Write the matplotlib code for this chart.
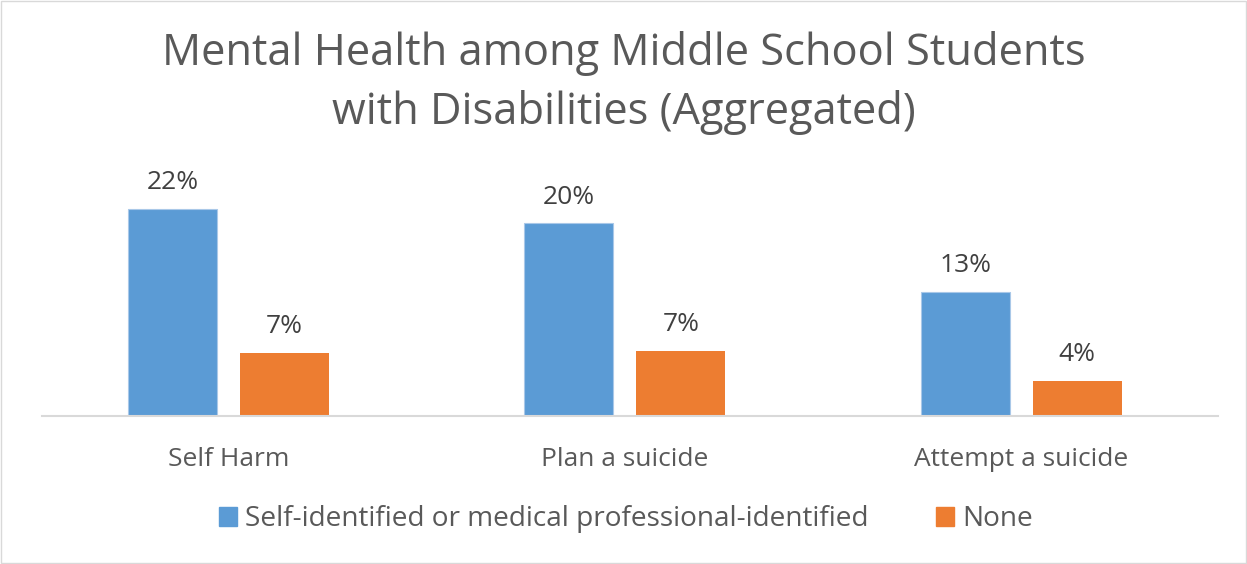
import numpy as np
import matplotlib.pyplot as plt
from matplotlib.patches import Patch

categories = ["Self Harm", "Plan a suicide", "Attempt a suicide"]
identified = [21.9, 20.4, 13.1]
none = [6.7, 6.9, 3.7]
series_names = ["Self-identified or medical professional-identified", "None"]

blue = "#5B9BD5"
orange = "#ED7D31"
text_gray = "#595959"

plt.rcParams["font.family"] = ["Open Sans", "DejaVu Sans"]

fig = plt.figure(figsize=(12.47, 5.64), dpi=100)
ax = fig.add_axes([42 / 1247, 1 - 416 / 564, 1176 / 1247, 236 / 564])

x = np.arange(len(categories))
w = 0.2245
off = 0.141
b1 = ax.bar(x - off, identified, w, color=blue, edgecolor="#A9C8E8", linewidth=0.8)
b2 = ax.bar(x + off, none, w, color=orange)

for bars, vals in [(b1, identified), (b2, none)]:
    for rect, v in zip(bars, vals):
        ax.annotate(f"{round(v)}%", (rect.get_x() + rect.get_width() / 2, v),
                    xytext=(0, 10), textcoords="offset points",
                    ha="center", va="bottom", fontsize=19, color="#404040")

ax.set_xlim(-0.47, 2.496)
ax.set_ylim(0, 25)
ax.set_yticks([])
ax.set_xticks(x)
ax.set_xticklabels(categories, fontsize=19, color=text_gray)
ax.tick_params(axis="x", length=0, pad=22)
for s in ["top", "right", "left"]:
    ax.spines[s].set_visible(False)
ax.spines["bottom"].set_color("#D9D9D9")
ax.spines["bottom"].set_linewidth(1.5)

fig.text(0.5, 1 - 83 / 564, "Mental Health among Middle School Students\nwith Disabilities (Aggregated)",
         ha="center", va="center", fontsize=31.3, color=text_gray, linespacing=1.42)

handles = [Patch(color=blue), Patch(color=orange)]
fig.legend(handles, series_names, loc="center", bbox_to_anchor=(0.502, 1 - 519 / 564),
           ncol=2, frameon=False, fontsize=20.2, labelcolor=text_gray,
           handlelength=0.65, handleheight=0.65, handletextpad=0.3, columnspacing=2.4)

fig.patches.append(plt.Rectangle((0.001, 0.001), 0.998, 0.997, transform=fig.transFigure,
                                 fill=False, edgecolor="#D9D9D9", linewidth=1))

fig.savefig("out.png", dpi=100)
